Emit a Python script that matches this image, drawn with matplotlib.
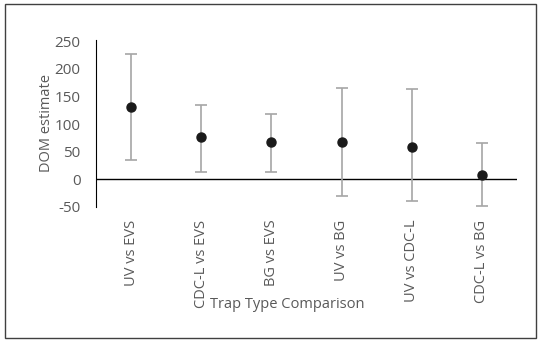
import matplotlib
matplotlib.use("Agg")
from matplotlib import pyplot as plt
from matplotlib.patches import Rectangle

comparaciones = ["UV vs EVS", "CDC-L vs EVS", "BG vs EVS", "UV vs BG", "UV vs CDC-L", "CDC-L vs BG"]
estimado = [130, 76, 67, 67, 58, 8]
superior = [226, 134, 118, 166, 163, 66]
inferior = [35, 13, 13, -31, -40, -48]

plt.rcParams['font.family'] = ['Open Sans', 'DejaVu Sans']
plt.rcParams['axes.unicode_minus'] = False
gris = '#595959'

fig = plt.figure(figsize=(5.39, 3.40), dpi=100)
ax = fig.add_axes([96/539, 133/340, 421/539, 167/340])

x = [i + 0.5 for i in range(len(comparaciones))]
err_abajo = [e - i for e, i in zip(estimado, inferior)]
err_arriba = [s - e for s, e in zip(superior, estimado)]
ax.errorbar(x, estimado, yerr=[err_abajo, err_arriba], fmt='o', color='#1a1a1a',
            markersize=6.5, ecolor='#a6a6a6', elinewidth=1.2, capsize=4, capthick=1.2, zorder=3)

ax.axhline(0, color='black', linewidth=1, zorder=2)
ax.set_xlim(0, len(comparaciones))
ax.set_ylim(-50, 252)
ax.set_yticks(range(-50, 251, 50))
ax.set_xticks(x)
ax.set_xticklabels(comparaciones, rotation=90, va='top', ha='center')
ax.tick_params(axis='x', length=0, pad=9, colors=gris, labelsize=10.5)
ax.tick_params(axis='y', length=0, pad=11, colors=gris, labelsize=11)
for lado in ['top', 'right', 'bottom']:
    ax.spines[lado].set_visible(False)
ax.spines['left'].set_color('black')
ax.set_ylabel('DOM estimate', color=gris, fontsize=10.5)
ax.yaxis.set_label_coords(-0.10, 0.5)

fig.text(287/539, 1 - 304/340, 'Trap Type Comparison', color=gris, fontsize=10.5,
         ha='center', va='center')
fig.patches.append(Rectangle((5/539, 2/340), 531/539, 334/340, transform=fig.transFigure,
                             fill=False, edgecolor='#404040', linewidth=1))

fig.savefig('out.png', dpi=100)
